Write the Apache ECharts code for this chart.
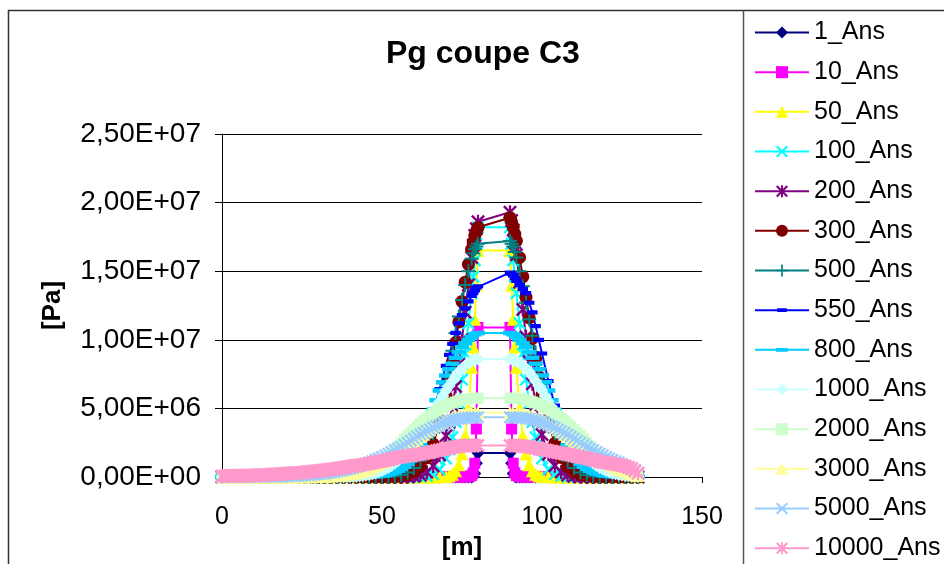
<!DOCTYPE html>
<html><head><meta charset="utf-8">
<script src="https://cdn.jsdelivr.net/npm/echarts@6/dist/echarts.min.js"></script>
<style>html,body{margin:0;padding:0;background:#fff}#c{width:944px;height:564px}</style>
</head><body><div id="c"></div>
<script>
// x positions [m]; coarse mesh (early series) and fine mesh (late series), left (0..80) and right (90..130) of the gallery
const X_COARSE_L = [0,2,4,6,8,10,12,14,16,18,20,22,24,26,28,30,32,34,36,38,40,42,44,46,48,50,52,54,56,58,60,62,64,66,68,70,71,72,73,74,75,76,77,78,78.5,79,79.5,80];
const X_COARSE_R = [90,90.5,91,91.5,92,93,94,95,96,97,98,99,100,102,104,106,108,110,112,114,116,118,120,122,124,126,128,130];
const X_FINE_L = [0,1,2,3,4,5,6,7,8,9,10,11,12,13,14,15,16,17,18,19,20,21,22,23,24,25,26,27,28,29,30,31,32,33,34,35,36,37,38,39,40,41,42,43,44,45,46,47,48,49,50,51,52,53,54,55,56,57,58,59,60,61,62,63,64,65,66,67,68,69,70,71,72,73,74,75,76,77,78,79,80];
const X_FINE_R = [90,91,92,93,94,95,96,97,98,99,100,101,102,103,104,105,106,107,108,109,110,111,112,113,114,115,116,117,118,119,120,121,122,123,124,125,126,127,128,129,130];

const NAMES = ['1_Ans','10_Ans','50_Ans','100_Ans','200_Ans','300_Ans','500_Ans','550_Ans','800_Ans','1000_Ans','2000_Ans','3000_Ans','5000_Ans','10000_Ans'];
const Y_TICKS = [0, 5e6, 1e7, 1.5e7, 2e7, 2.5e7];
const X_TICKS = [0, 50, 100, 150];

// gas pressure values, in MPa (multiplied by 1e6 to give Pa)
const P1_L = [0,0,0,0,0,0,0,0,0,0, 0,0,0,0,0,0,0,0,0,0, 0,0,0,0,0,0,0,0,0,0, 0,0,0,0,0,0,0,0,0,0, 0,0,0,0, 0.05,0.25,1.0,1.75];
const P1_R = [1.75,1.0,0.25,0.05, 0,0,0,0,0,0,0,0,0,0, 0,0,0,0,0,0,0,0,0,0, 0,0,0,0];
const P10_L = [0,0,0,0,0,0,0,0,0,0, 0,0,0,0,0,0,0,0,0,0, 0,0,0,0,0,0,0,0,0,0, 0,0,0,0,0,0,0,0,0,0, 0,0, 0.02,0.1,0.3,1.0,3.5,10.9];
const P10_R = [10.9,3.5,1.0,0.3,0.1,0.02, 0,0,0,0,0,0,0,0,0,0, 0,0,0,0,0,0,0,0,0,0, 0,0];
const P50_L = [0,0,0,0,0,0,0,0,0,0, 0,0,0,0,0,0,0,0,0,0, 0,0,0,0,0,0,0,0,0,0, 0,0,0,0, 0.01,0.04,0.1,0.2,0.45,0.9,1.7,3,5,8,9.5,11.5,14,16.5];
const P50_R = [16.5,14,11.5,9.5,8,5,3,1.7,0.9,0.45,0.2,0.1,0.04,0.01, 0,0,0,0,0,0,0,0,0,0, 0,0,0,0];
const P100_L = [0,0,0,0,0,0,0,0,0,0, 0,0,0,0,0,0,0,0,0,0, 0,0,0,0,0,0,0,0,0,0, 0, 0.02,0.07,0.2,0.55,1.35,2.0,2.9,4.0,5.4,7.1,9.0,11.2,13.4,14.6,15.8,17,18.2];
const P100_R = [18.2,17,15.8,14.6,13.4,11.2,9.0,7.1,5.4,4.0,2.9,2.0,1.35,0.55,0.2,0.07,0.02, 0,0,0,0,0,0,0,0,0,0,0];
const P200_L = [0,0,0,0,0,0,0,0,0,0, 0,0,0,0,0,0,0,0,0,0, 0,0,0,0,0,0,0,0,0, 0.02,0.06,0.15,0.35,0.8,1.6,3.0,4.0,5.2,6.6,8.2,10,12,14,16,16.9,17.6,18.1,18.6];
const P200_R = [19.3,18.7,18.0,17.1,16.2,14.2,12.2,10.2,8.4,6.8,5.3,4.1,3.1,1.65,0.82,0.36,0.15,0.06,0.02, 0,0,0,0,0,0,0,0,0];
const P300_L = [0,0,0,0,0,0,0,0,0,0, 0,0,0,0,0,0,0,0,0,0, 0,0,0,0,0,0, 0.01,0.03,0.08,0.18,0.38,0.75,1.4,2.4,3.9,5.9,7.1,8.4,9.8,11.3,12.8,14.2,15.5,16.6,17.1,17.6,17.9,18.2];
const P300_R = [18.9,18.6,18.2,17.7,17.2,16.0,14.6,13.1,11.6,10.1,8.6,7.3,6.0,4.0,2.45,1.42,0.76,0.38,0.18,0.08,0.03,0.01, 0,0,0,0,0,0];
const P500_L = [0,0,0,0,0,0,0,0,0,0, 0,0,0,0,0,0,0,0,0,0, 0,0,0,0,0,0, 0.02,0.06,0.15,0.33,0.65,1.2,2.0,3.2,4.8,6.8,8.0,9.2,10.5,11.7,12.9,14.0,15.0,15.9,16.3,16.6,16.8,17.0];
const P500_R = [17.2,17.0,16.8,16.4,16.0,15.0,13.9,12.7,11.5,10.3,9.1,7.9,6.8,4.8,3.2,2.0,1.2,0.65,0.33,0.15,0.06,0.02, 0,0,0,0,0,0];
const P550_L = [0,0,0,0,0,0,0,0,0,0, 0,0,0,0,0,0,0,0,0,0, 0,0, 0.01,0.02,0.05,0.11,0.21,0.38,0.65,1.05,1.65,2.5,3.6,4.9,6.4,8.1,8.9,9.7,10.5,11.2,11.8,12.3,12.8,13.2,13.4,13.6,13.8,13.9];
const P550_R = [14.9,14.8,14.7,14.5,14.3,14.0,13.7,13.4,12.7,12.0,11.0,10.0,9.0,7.0,5.2,3.7,2.5,1.6,1.0,0.6,0.34,0.18,0.09,0.04,0.02,0.01,0,0];
// fine mesh series
const P800_L = [0,0,0,0,0,0,0,0,0,0, 0,0,0,0,0,0,0,0,0,0, 0,0,0,0,0,0,0,0,0,0, 0,0,0,0,0,0,0,0,0,0,
  0,0.005,0.007,0.01,0.015,0.02,0.03,0.045,0.06,0.08, 0.11,0.15,0.2,0.27,0.35,0.45,0.58,0.75,0.95,1.2,
  1.5,1.9,2.35,2.9,3.5,4.2,4.9,5.6,6.3,6.9, 7.4,7.85,8.25,8.7,9.1,9.45,9.75,10.0,10.2,10.4,10.5];
const P800_R = [10.5,10.4,10.2,10.0,9.75,9.45,9.1,8.7,8.25,7.85, 7.4,6.9,6.3,5.6,4.9,4.2,3.5,2.9,2.35,1.9,
  1.5,1.2,0.95,0.75,0.58,0.45,0.35,0.27,0.2,0.15, 0.11,0.08,0.06,0.045,0.03,0.02,0.015,0.01,0.007,0.005,0];
const P1000_L = [0,0,0,0,0,0,0,0,0,0, 0,0,0,0,0,0,0,0,0,0, 0,0,0,0,0,0,0,0,0,0,
  0,0,0,0,0,0.005,0.01,0.012,0.015,0.022, 0.03,0.045,0.06,0.085,0.11,0.15,0.19,0.24,0.3,0.38,
  0.47,0.58,0.7,0.84,1.0,1.19,1.4,1.64,1.9,2.19, 2.5,2.82,3.15,3.52,3.9,4.3,4.7,5.1,5.5,5.9, 6.3,6.65,7.0,7.35,7.65,7.9,8.1,8.3,8.45,8.55,8.6];
const P1000_R = [8.6,8.55,8.45,8.3,8.1,7.9,7.65,7.35,7.0,6.65, 6.3,5.9,5.5,5.1,4.7,4.3,3.9,3.52,3.15,2.82,
  2.5,2.19,1.9,1.64,1.4,1.19,1.0,0.84,0.7,0.58, 0.47,0.38,0.3,0.24,0.19,0.15,0.11,0.085,0.06,0.045,0.03];
const P2000_L = [0,0,0,0,0,0,0,0,0,0, 0,0,0,0,0,0,0,0,0,0, 0,0,0,0,0,0,0,0,0,0,
  0.005,0.007,0.01,0.015,0.02,0.027,0.035,0.047,0.06,0.08, 0.1,0.13,0.17,0.22,0.28,0.36,0.45,0.57,0.7,0.87,
  1.05,1.27,1.5,1.75,2.0,2.25,2.5,2.75,3.0,3.22, 3.45,3.67,3.9,4.1,4.3,4.47,4.65,4.8,4.95,5.08, 5.2,5.3,5.4,5.47,5.55,5.6,5.65,5.69,5.72,5.74,5.75];
const P2000_R = [5.75,5.74,5.72,5.69,5.65,5.6,5.55,5.47,5.4,5.3, 5.2,5.08,4.95,4.8,4.65,4.47,4.3,4.1,3.9,3.67,
  3.45,3.22,3.0,2.75,2.5,2.25,2.0,1.75,1.5,1.27, 1.05,0.87,0.7,0.57,0.45,0.36,0.28,0.21,0.15,0.1,0.06];
const P3000_L = [0,0,0,0,0,0,0,0,0,0, 0,0,0,0,0,0,0,0,0,0, 0,0,0,0,
  0.01,0.012,0.015,0.02,0.025,0.032, 0.04,0.05,0.06,0.075,0.09,0.11,0.13,0.16,0.19,0.22,
  0.26,0.31,0.36,0.42,0.48,0.56,0.64,0.73,0.83,0.94, 1.05,1.17,1.3,1.45,1.6,1.75,1.9,2.07,2.25,2.42,
  2.6,2.77,2.95,3.12,3.3,3.45,3.6,3.75,3.9,4.03, 4.15,4.25,4.35,4.42,4.48,4.54,4.6,4.64,4.67,4.69,4.7];
const P3000_R = [4.7,4.69,4.67,4.64,4.6,4.54,4.48,4.42,4.35,4.25, 4.15,4.03,3.9,3.75,3.6,3.45,3.3,3.12,2.95,2.77,
  2.6,2.42,2.25,2.07,1.9,1.75,1.6,1.45,1.3,1.17, 1.05,0.94,0.83,0.73,0.64,0.55,0.46,0.37,0.28,0.2,0.12];
const P5000_L = [0.003,0.003,0.003,0.004,0.004,0.004,0.005,0.005,0.006,0.006, 0.007,0.008,0.01,0.012,0.015,0.017,0.02,0.025,0.03,0.035,
  0.04,0.05,0.06,0.07,0.08,0.095,0.11,0.13,0.15,0.175, 0.2,0.22,0.25,0.28,0.32,0.36,0.4,0.44,0.49,0.54,
  0.6,0.66,0.73,0.8,0.88,0.96,1.05,1.15,1.25,1.35, 1.45,1.57,1.7,1.82,1.95,2.07,2.2,2.35,2.5,2.65,
  2.8,2.95,3.1,3.22,3.35,3.47,3.6,3.7,3.8,3.9, 4.0,4.07,4.15,4.2,4.24,4.27,4.3,4.32,4.33,4.34,4.35];
const P5000_R = [4.35,4.34,4.33,4.32,4.3,4.27,4.24,4.2,4.15,4.07, 4.0,3.9,3.8,3.7,3.6,3.47,3.35,3.22,3.1,2.95,
  2.8,2.65,2.5,2.35,2.2,2.07,1.95,1.82,1.7,1.57, 1.45,1.35,1.25,1.15,1.05,0.95,0.83,0.7,0.57,0.43,0.28];
const P10000_L = [0.07,0.075,0.08,0.085,0.09,0.095,0.1,0.105,0.11,0.115, 0.12,0.13,0.14,0.15,0.16,0.175,0.19,0.205,0.22,0.235,
  0.25,0.265,0.28,0.295,0.31,0.33,0.35,0.375,0.4,0.425, 0.45,0.475,0.5,0.53,0.56,0.59,0.62,0.66,0.7,0.74,
  0.78,0.81,0.84,0.87,0.9,0.94,0.98,1.02,1.07,1.11, 1.16,1.21,1.26,1.32,1.38,1.42,1.46,1.5,1.54,1.57,
  1.6,1.64,1.68,1.72,1.76,1.81,1.86,1.91,1.96,2.0, 2.05,2.1,2.15,2.2,2.24,2.27,2.29,2.3,2.3,2.3,2.3];
const P10000_R = [2.3,2.3,2.28,2.27,2.25,2.22,2.2,2.15,2.1,2.05, 2.0,1.96,1.92,1.88,1.83,1.79,1.74,1.7,1.65,1.6,
  1.55,1.5,1.45,1.4,1.35,1.3,1.25,1.19,1.12,1.08, 1.05,1.01,0.97,0.93,0.88,0.83,0.78,0.71,0.62,0.48,0.3];

const LEFT = [P1_L,P10_L,P50_L,P100_L,P200_L,P300_L,P500_L,P550_L,P800_L,P1000_L,P2000_L,P3000_L,P5000_L,P10000_L];
const RIGHT = [P1_R,P10_R,P50_R,P100_R,P200_R,P300_R,P500_R,P550_R,P800_R,P1000_R,P2000_R,P3000_R,P5000_R,P10000_R];
const FINE = [false,false,false,false,false,false,false,false,true,true,true,true,true,true];

const COLORS = ['#000080','#FF00FF','#FFFF00','#00FFFF','#800080','#800000','#008080','#0000FF','#00CCFF','#CCFFFF','#CCFFCC','#FFFF99','#99CCFF','#FF99CC'];
const SYM_DIAMOND = 'path://M0,-1L1,0L0,1L-1,0Z';
const SYM_X = 'path://M-1,-0.75L-0.75,-1L0,-0.25L0.75,-1L1,-0.75L0.25,0L1,0.75L0.75,1L0,0.25L-0.75,1L-1,0.75L-0.25,0Z';
const SYM_STAR = 'path://M-1,-0.75L-0.75,-1L0,-0.25L0.75,-1L1,-0.75L0.25,0L1,0.75L0.75,1L0,0.25L-0.75,1L-1,0.75L-0.25,0ZM-0.16,-1L0.16,-1L0.16,1L-0.16,1Z';
const SYM_PLUS = 'path://M-1,-0.14L1,-0.14L1,0.14L-1,0.14ZM-0.14,-1L0.14,-1L0.14,1L-0.14,1Z';
const SYM_DASH_S = 'path://M-1,-1L-1,-1ZM-0.8,-0.32L0.8,-0.32L0.8,0.32L-0.8,0.32ZM1,1L1,1Z';
const SYM_DASH_L = 'path://M-1,-1L-1,-1ZM-1,-0.32L1,-0.32L1,0.32L-1,0.32ZM1,1L1,1Z';
const SYMBOLS = [SYM_DIAMOND,'rect','triangle',SYM_X,SYM_STAR,'circle',SYM_PLUS,SYM_DASH_S,SYM_DASH_L,SYM_DIAMOND,'rect','triangle',SYM_X,SYM_STAR];
const SIZES = [13,11,13,13,14,13,14,13,14,13,11,13,13,14];

const FONT = 'Liberation Sans, Arial, sans-serif';

function fmtSci(v){
  if (v === 0) return '0,00E+00';
  const e = Math.floor(Math.log10(v) + 1e-9);
  const m = v / Math.pow(10, e);
  return m.toFixed(2).replace('.', ',') + 'E+' + String(e).padStart(2, '0');
}

const series = NAMES.map((name, i) => {
  const xs = FINE[i] ? X_FINE_L.concat(X_FINE_R) : X_COARSE_L.concat(X_COARSE_R);
  const vals = LEFT[i].concat(RIGHT[i]);
  return {
    type: 'line', name: name,
    data: xs.map((x, k) => [x, vals[k] * 1e6]),
    symbol: SYMBOLS[i], symbolSize: SIZES[i], showSymbol: true,
    lineStyle: { color: COLORS[i], width: 2 },
    itemStyle: { color: COLORS[i] },
    emphasis: { disabled: true },
    animation: false
  };
});

const chart = echarts.init(document.getElementById('c'), null, { renderer: 'canvas' });
chart.setOption({
  animation: false,
  backgroundColor: '#fff',
  textStyle: { fontFamily: FONT, color: '#000' },
  title: {
    text: 'Pg coupe C3', left: 381, top: 33,
    textStyle: { fontFamily: FONT, fontSize: 32, fontWeight: 'bold', color: '#000' }
  },
  legend: {
    orient: 'vertical', left: 754, top: 20, padding: 0,
    itemWidth: 54, itemHeight: 15, itemGap: 14.67,
    textStyle: { fontFamily: FONT, fontSize: 25, lineHeight: 25, color: '#000' },
    data: NAMES, selectedMode: false
  },
  grid: { left: 222, top: 134, right: 242, bottom: 87, containLabel: false, outerBoundsMode: 'none' },
  xAxis: {
    type: 'value', min: 0, max: 150, interval: 50,
    axisLine: { show: true, onZero: false, lineStyle: { color: '#000', width: 1 } },
    axisTick: { show: true, length: 6, lineStyle: { color: '#000' } },
    axisLabel: { fontFamily: FONT, fontSize: 25, color: '#000', margin: 28,
      formatter: v => X_TICKS.includes(v) ? String(v) : '' },
    splitLine: { show: false },
    name: '[m]', nameLocation: 'middle', nameGap: 56,
    nameTextStyle: { fontFamily: FONT, fontSize: 26, fontWeight: 'bold', color: '#000' }
  },
  yAxis: {
    type: 'value', min: 0, max: 2.5e7, interval: 5e6,
    axisLine: { show: true, lineStyle: { color: '#000', width: 1 } },
    axisTick: { show: true, length: 7, lineStyle: { color: '#000' } },
    axisLabel: { fontFamily: FONT, fontSize: 28, color: '#000', margin: 21,
      formatter: v => Y_TICKS.includes(v) ? fmtSci(v) : '' },
    splitLine: { show: true, lineStyle: { color: '#000', width: 1 } },
    name: '[Pa]', nameLocation: 'middle', nameGap: 156, nameRotate: 90,
    nameTextStyle: { fontFamily: FONT, fontSize: 26, fontWeight: 'bold', color: '#000' }
  },
  graphic: [
    { type: 'rect', silent: true, shape: { x: 8.5, y: 10.5, width: 1000, height: 1000 },
      style: { fill: 'none', stroke: '#333', lineWidth: 1.5 } },
    { type: 'line', silent: true, shape: { x1: 743.5, y1: 10.5, x2: 743.5, y2: 600 },
      style: { stroke: '#555', lineWidth: 1.5 } }
  ],
  series: series
});
</script>
</body></html>
